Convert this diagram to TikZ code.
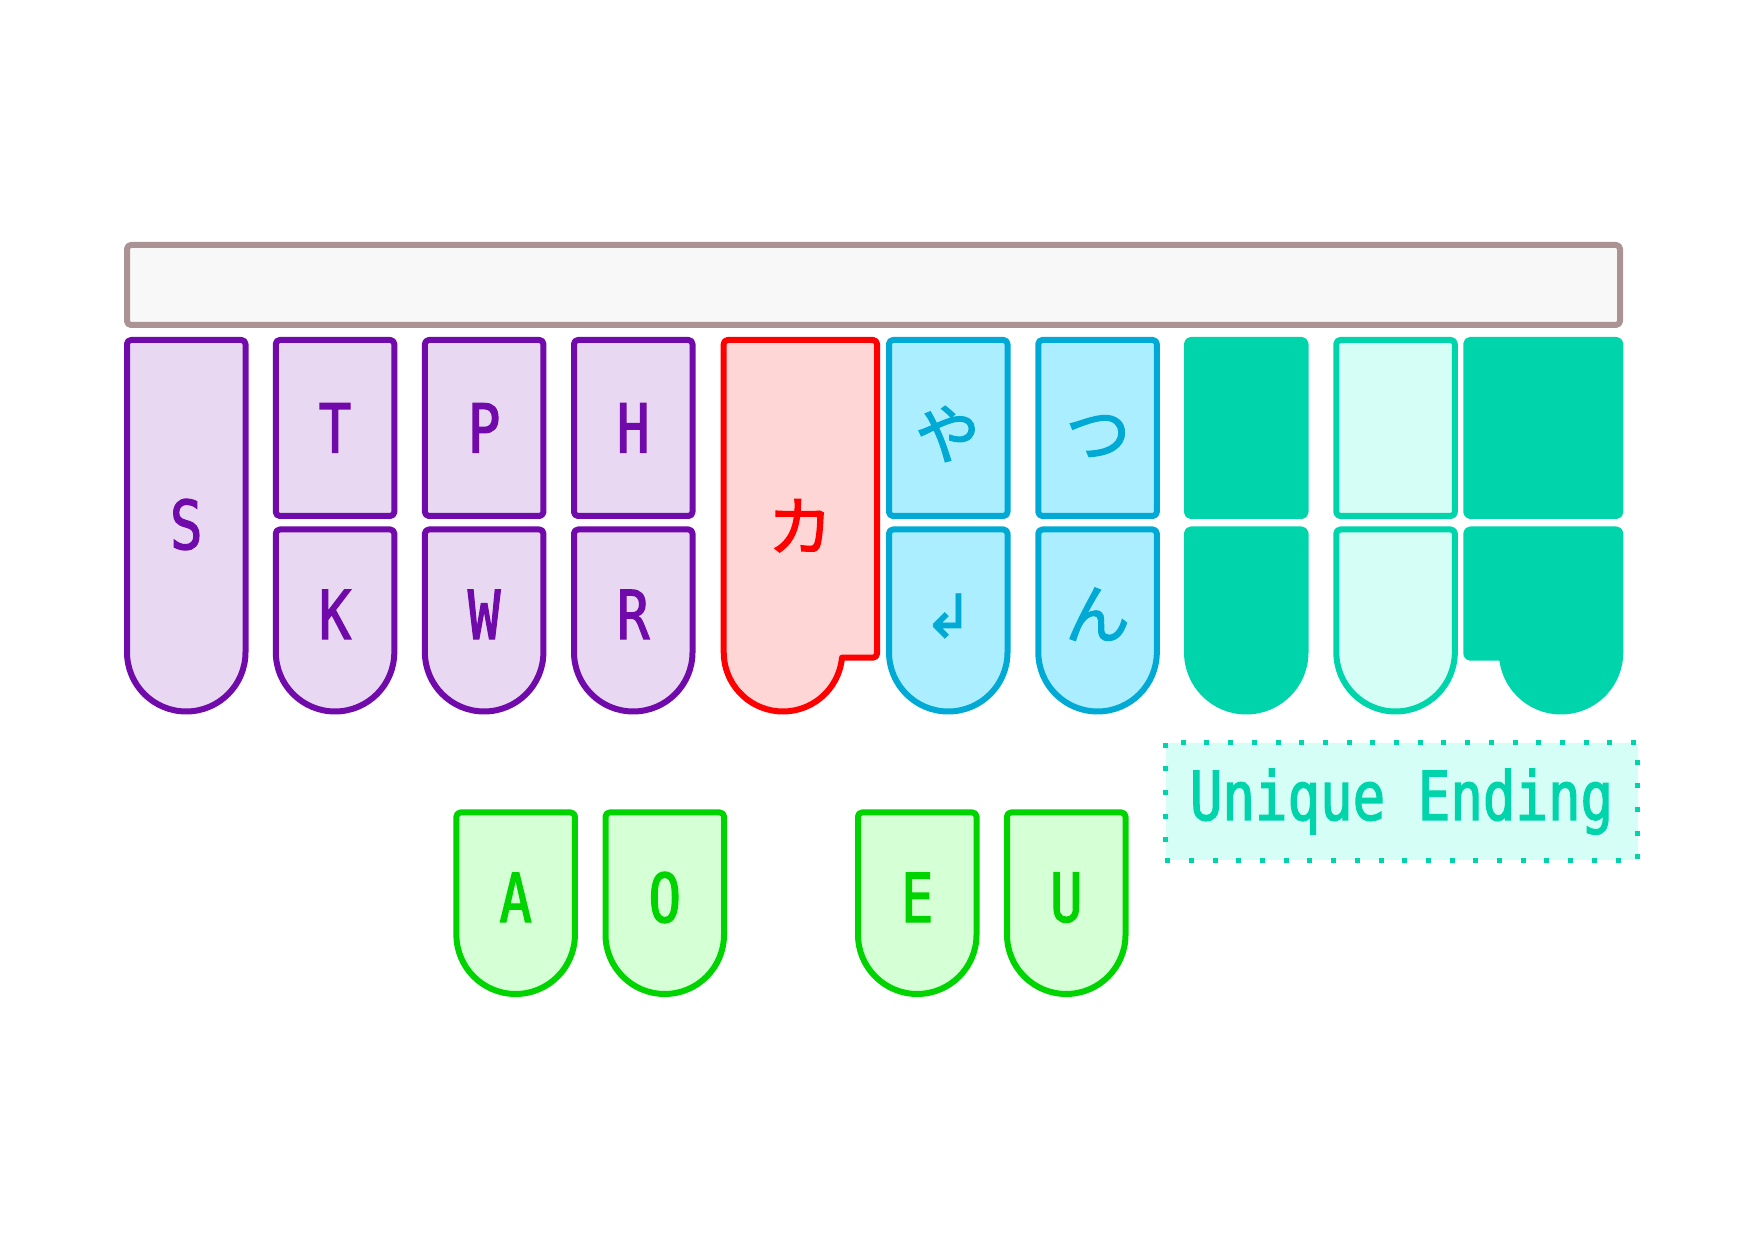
\documentclass[tikz,border=0pt]{standalone}
\usepackage{fontspec}
\newfontfamily\keymono[FakeStretch=0.8,FakeBold=1.8]{DejaVu Sans Mono}
\newfontfamily\kanafont[FakeBold=1.8]{Noto Sans CJK JP}
\newfontfamily\symfont[FakeBold=1.2]{DejaVu Sans}
\definecolor{kpurple}{RGB}{113,10,170}
\definecolor{kpurplef}{RGB}{233,216,241}
\definecolor{kred}{RGB}{255,0,0}
\definecolor{kredf}{RGB}{255,214,214}
\definecolor{kblue}{RGB}{0,170,212}
\definecolor{kbluef}{RGB}{170,238,255}
\definecolor{kteal}{RGB}{0,212,170}
\definecolor{ktealf}{RGB}{213,255,246}
\definecolor{kgreen}{RGB}{0,212,0}
\definecolor{kgreenf}{RGB}{213,255,213}
\definecolor{kbar}{RGB}{172,147,147}
\definecolor{kbarf}{RGB}{248,248,248}
\tikzset{
  keyline/.style={line width=3pt, line join=round},
  pkey/.style={keyline, draw=kpurple, fill=kpurplef},
  rkey/.style={keyline, draw=kred, fill=kredf},
  bkey/.style={keyline, draw=kblue, fill=kbluef},
  tkey/.style={keyline, draw=kteal, fill=kteal},
  lkey/.style={keyline, draw=kteal, fill=ktealf},
  gkey/.style={keyline, draw=kgreen, fill=kgreenf},
  barbox/.style={keyline, draw=kbar, fill=kbarf},
  lettxt/.style={font=\keymono\fontsize{33.8}{40}\selectfont, inner sep=0pt},
  kanatxt/.style={font=\kanafont\fontsize{32.5}{38}\selectfont, inner sep=0pt},
  symtxt/.style={font=\symfont\fontsize{30}{36}\selectfont, inner sep=0pt},
}
% upper key: left outer x
\newcommand\UpKey[2]{\draw[#2, rounded corners=2pt] ({#1+3},900) rectangle ({#1+121.5},724);}
% lower key with round bottom: left outer x, style, top Y, arc centre Y
\newcommand\RoundKey[4]{\draw[#2] ({#1+3},#4) -- ({#1+3},{#3-4}) arc[start angle=180,end angle=90,radius=2pt] -- ({#1+117.5},#3) arc[start angle=90,end angle=0,radius=2pt] -- ({#1+121.5},#4) arc[start angle=0,end angle=-180,radius=29.625pt] -- cycle;}
\begin{document}
\begin{tikzpicture}[x=0.5pt,y=0.5pt]
\useasboundingbox (0,0) rectangle (1748,1240);
% bar
\draw[barbox, rounded corners=2pt] (127,995) rectangle (1620,915);
% S key
\RoundKey{124}{pkey}{900}{587.75}
% purple
\UpKey{272.8}{pkey}\RoundKey{272.8}{pkey}{710.5}{587.75}
\UpKey{421.9}{pkey}\RoundKey{421.9}{pkey}{710.5}{587.75}
\UpKey{571}{pkey}\RoundKey{571}{pkey}{710.5}{587.75}
% ka key
\draw[rkey] (723.7,587.75) -- (723.7,896) arc[start angle=180,end angle=90,radius=2pt] -- (873,900) arc[start angle=90,end angle=0,radius=2pt] -- (877,586.3) arc[start angle=0,end angle=-90,radius=2pt] -- (841.95,582.3) arc[start angle=-5.27,end angle=-180,radius=29.625pt] -- cycle;
% blue
\UpKey{886}{bkey}\RoundKey{886}{bkey}{710.5}{587.75}
\UpKey{1035.3}{bkey}\RoundKey{1035.3}{bkey}{710.5}{587.75}
% teal
\UpKey{1184}{tkey}\RoundKey{1184}{tkey}{710.5}{587.75}
\UpKey{1333.3}{lkey}\RoundKey{1333.3}{lkey}{710.5}{587.75}
\draw[tkey, rounded corners=2pt] (1466.3,900) rectangle (1620.3,724);
\draw[tkey] (1620.3,587.75) -- (1620.3,706.5) arc[start angle=0,end angle=90,radius=2pt] -- (1470.3,710.5) arc[start angle=90,end angle=180,radius=2pt] -- (1466.3,586.3) arc[start angle=180,end angle=270,radius=2pt] -- (1502.05,582.3) arc[start angle=185.27,end angle=360,radius=29.625pt] -- cycle;
% vowels
\RoundKey{453.4}{gkey}{427.5}{305.25}
\RoundKey{602.5}{gkey}{427.5}{305.25}
\RoundKey{855}{gkey}{427.5}{305.25}
\RoundKey{1004}{gkey}{427.5}{305.25}
% unique ending box
\fill[ktealf, rounded corners=2pt] (1166,497) rectangle (1638,380);
\draw[kteal, line width=2.5pt, dash pattern=on 2.5pt off 9.35pt] (1165,497.3) rectangle (1637.7,379);
% labels
\node[lettxt, text=kpurple] (lS) at (186.25,715.5) {S};
\node[lettxt, text=kpurple] (lT) at (335.05,812) {T};
\node[lettxt, text=kpurple] (lP) at (484.15,812) {P};
\node[lettxt, text=kpurple] (lH) at (633.25,812) {H};
\node[lettxt, text=kpurple] (lK) at (335.05,625.5) {K};
\node[lettxt, text=kpurple] (lW) at (484.15,625.5) {W};
\node[lettxt, text=kpurple] (lR) at (633.25,625.5) {R};
\node[kanatxt, text=kred] (lka) at (800.3,714.2) {カ};
\node[kanatxt, text=kblue] (lya) at (947.5,806) {や};
\node[kanatxt, text=kblue] (ltsu) at (1098,803.5) {つ};
\node[symtxt, text=kblue] (lret) at (948.3,624) {↲};
\node[kanatxt, text=kblue] (ln) at (1097.5,625.8) {ん};
\node[lettxt, text=kgreen] (lA) at (515.65,342.5) {A};
\node[lettxt, text=kgreen] (lO) at (664.75,342.5) {O};
\node[lettxt, text=kgreen] (lE) at (917.25,342.5) {E};
\node[lettxt, text=kgreen] (lU) at (1066.25,342.5) {U};
\node[lettxt, text=kteal, anchor=base] (lunique) at (1401.5,420) {Unique Ending};
\end{tikzpicture}
\end{document}
